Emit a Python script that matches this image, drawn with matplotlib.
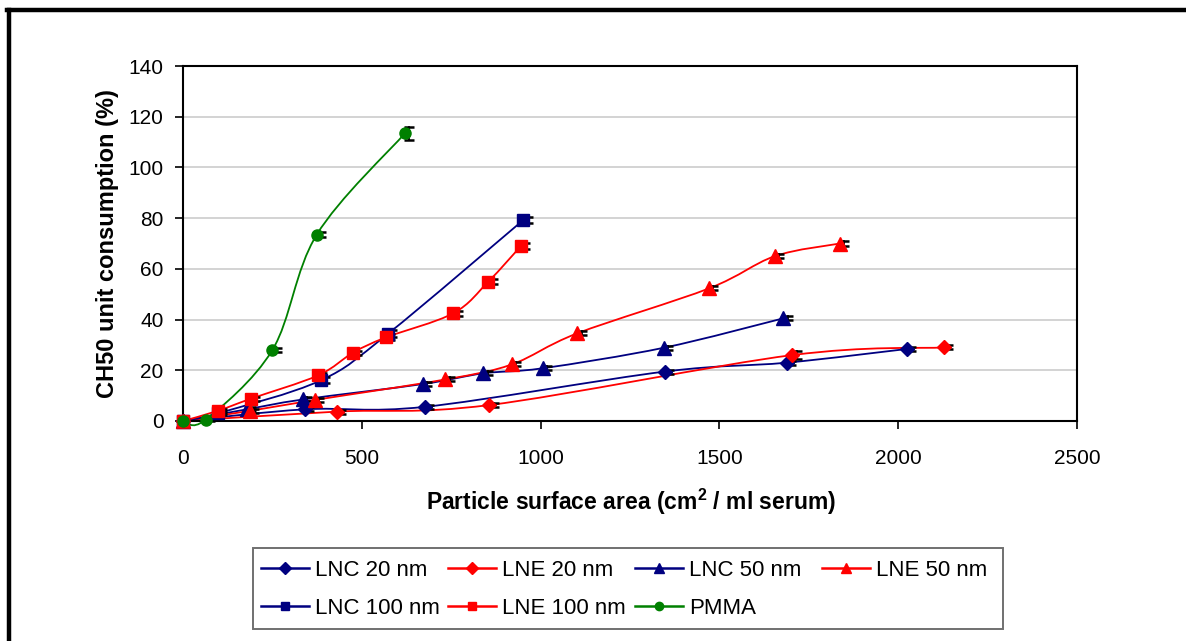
import numpy as np
import matplotlib
matplotlib.use('Agg')
import matplotlib.pyplot as plt
from matplotlib.path import Path
from matplotlib.patches import PathPatch, Rectangle
from matplotlib.lines import Line2D
import matplotlib.transforms as mtransforms

plt.rcParams['font.family'] = ['Liberation Sans', 'DejaVu Sans']

# ---------------- data ----------------
lnc20_x = [0, 341, 677, 1348, 1688, 2024]
lnc20_y = [0, 4.6, 5.6, 19.5, 23.0, 28.4]
lnc20_e = [0, 0.8, 0.8, 0.8, 0.8, 0.8]

lne20_x = [0, 430, 857, 1704, 2129]
lne20_y = [0, 3.7, 6.3, 26.0, 29.0]
lne20_e = [0, 0.8, 0.8, 1.5, 0.8]

lnc50_x = [0, 178, 336, 672, 840, 1006, 1345, 1679]
lnc50_y = [0, 4.6, 8.5, 14.6, 18.8, 20.8, 28.9, 40.5]
lnc50_e = [0, 0.8, 0.8, 0.8, 0.8, 0.8, 0.8, 0.8]

lne50_x = [0, 187, 369, 734, 919, 1103, 1471, 1655, 1837]
lne50_y = [0, 4.0, 8.3, 16.4, 22.3, 34.6, 52.3, 65.0, 70.0]
lne50_e = [0, 0.8, 0.8, 0.8, 0.8, 0.8, 0.8, 0.8, 0.8]

lnc100_x = [0, 97, 385, 574, 952]
lnc100_y = [0, 3.0, 16.0, 34.5, 79.3]
lnc100_e = [0, 0.8, 1.2, 1.2, 1.2]

lne100_x = [0, 97, 190, 378, 476, 568, 756, 854, 945]
lne100_y = [0, 4.0, 8.8, 18.0, 27.0, 33.0, 42.5, 55.0, 69.0]
lne100_e = [0, 0.8, 0.8, 0.8, 0.8, 1.2, 1.0, 1.0, 1.2]

pmma_x = [0, 63, 250, 374, 621]
pmma_y = [0, 0.5, 28.0, 73.5, 113.5]
pmma_e = [0, 0.5, 0.8, 1.0, 2.5]

xticks = [0, 500, 1000, 1500, 2000, 2500]
yticks = [0, 20, 40, 60, 80, 100, 120, 140]

NAVY = '#000080'
RED = '#ff0000'
GREEN = '#008000'

series = [
    ('LNC 20 nm', lnc20_x, lnc20_y, lnc20_e, NAVY, 'D', 7.5, 6.5),
    ('LNE 20 nm', lne20_x, lne20_y, lne20_e, RED, 'D', 7.5, 6.5),
    ('LNC 50 nm', lnc50_x, lnc50_y, lnc50_e, NAVY, '^', 9.5, 7.5),
    ('LNE 50 nm', lne50_x, lne50_y, lne50_e, RED, '^', 9.5, 7.5),
    ('LNC 100 nm', lnc100_x, lnc100_y, lnc100_e, NAVY, 's', 8, 6),
    ('LNE 100 nm', lne100_x, lne100_y, lne100_e, RED, 's', 8, 6),
    ('PMMA', pmma_x, pmma_y, pmma_e, GREEN, 'o', 8, 6),
]


def smooth_path(x, y):
    """Excel-like smoothed line: cubic Bezier through data points."""
    pts = np.column_stack([x, y]).astype(float)
    n = len(pts)
    verts = [pts[0]]
    codes = [Path.MOVETO]
    for i in range(n - 1):
        p0 = pts[i - 1] if i > 0 else pts[i]
        p1 = pts[i]
        p2 = pts[i + 1]
        p3 = pts[i + 2] if i + 2 < n else pts[i + 1]
        c1 = p1 + (p2 - p0) / 6.0
        c2 = p2 - (p3 - p1) / 6.0
        verts += [c1, c2, p2]
        codes += [Path.CURVE4] * 3
    return Path(verts, codes)


W, H = 1186, 641
fig = plt.figure(figsize=(W / 100, H / 100), dpi=100)
L, R, T, B = 183, 1077, 66, 421
ax = fig.add_axes([L / W, 1 - B / H, (R - L) / W, (B - T) / H])

offset = mtransforms.ScaledTranslation(3 / 72, 0, fig.dpi_scale_trans)
etr = ax.transData + offset

handles = {}
for name, xs, ys, es, col, mk, ms, lms in series:
    patch = PathPatch(smooth_path(xs, ys), facecolor='none', edgecolor=col,
                      lw=1.3, zorder=2, clip_on=False)
    ax.add_patch(patch)
    xs_a = np.asarray(xs, float)
    ys_a = np.asarray(ys, float)
    es_a = np.asarray(es, float)
    # error bars
    for xi, yi, ei in zip(xs_a, ys_a, es_a):
        if ei <= 0:
            continue
        ax.plot([xi, xi], [yi - ei, yi + ei], color='black', lw=1.3,
                transform=etr, zorder=3, clip_on=False)
    mask = es_a > 0
    ax.plot(xs_a[mask], ys_a[mask] + es_a[mask], linestyle='none', marker='_',
            markersize=7, mew=1.8, color='black', transform=etr, zorder=3, clip_on=False)
    ax.plot(xs_a[mask], ys_a[mask] - es_a[mask], linestyle='none', marker='_',
            markersize=7, mew=1.8, color='black', transform=etr, zorder=3, clip_on=False)
    ax.plot(xs_a, ys_a, linestyle='none', marker=mk, markersize=ms,
            markerfacecolor=col, markeredgecolor=col, zorder=4, clip_on=False)
    handles[name] = Line2D([], [], color=col, lw=1.8, marker=mk,
                           markersize=lms, markerfacecolor=col, markeredgecolor=col)

ax.set_xlim(0, 2500)
ax.set_ylim(0, 140)
ax.set_xticks(xticks)
ax.set_yticks(yticks)
ax.set_xticklabels([str(v) for v in xticks])
ax.set_yticklabels([str(v) for v in yticks])
ax.tick_params(axis='x', direction='out', length=6, width=1.2, pad=14, labelsize=15)
ax.tick_params(axis='y', direction='out', length=6, width=1.2, pad=8, labelsize=15)
ax.yaxis.grid(True, color='#c8c8c8', lw=1.1)
ax.set_axisbelow(True)
for sp in ax.spines.values():
    sp.set_linewidth(1.5)
    sp.set_color('black')

ax.set_xlabel('Particle surface area (cm$\\mathregular{^2}$ / ml serum)',
              fontsize=16.5, fontweight='bold')
ax.xaxis.set_label_coords(0.501, -0.228)
ax.xaxis.label.set_va('center')
ax.set_ylabel('CH50 unit consumption (%)', fontsize=17, fontweight='bold')
ax.yaxis.set_label_coords(-0.085, 0.5)
ax.yaxis.label.set_va('center')

# legend: Excel-style equal-width columns, 2 rows, one framed box
legend_cols = [['LNC 20 nm', 'LNC 100 nm'], ['LNE 20 nm', 'LNE 100 nm'],
               ['LNC 50 nm', 'PMMA'], ['LNE 50 nm']]
col_x = [261, 448, 635, 822]
for cx, names in zip(col_x, legend_cols):
    lg = fig.legend([handles[k] for k in names], names, ncol=1,
                    loc='upper left', bbox_to_anchor=(cx / W, 1 - 560 / H),
                    bbox_transform=fig.transFigure, fontsize=16,
                    frameon=False, handlelength=2.15, handletextpad=0.28,
                    labelspacing=0.76, borderpad=0.0, borderaxespad=0)
fig.add_artist(Rectangle((253 / W, 1 - 629 / H), (1003 - 253) / W, (629 - 548) / H,
                         transform=fig.transFigure, facecolor='none',
                         edgecolor='#707070', lw=1.4))

# outer frame of the figure (top and left thick lines)
fig.add_artist(Line2D([7 / W, 1.0], [1 - 10 / H, 1 - 10 / H], transform=fig.transFigure,
                      color='black', lw=3.2))
fig.add_artist(Line2D([9 / W, 9 / W], [0, 1 - 10 / H], transform=fig.transFigure,
                      color='black', lw=3.2))

fig.savefig('out.png', dpi=100)
